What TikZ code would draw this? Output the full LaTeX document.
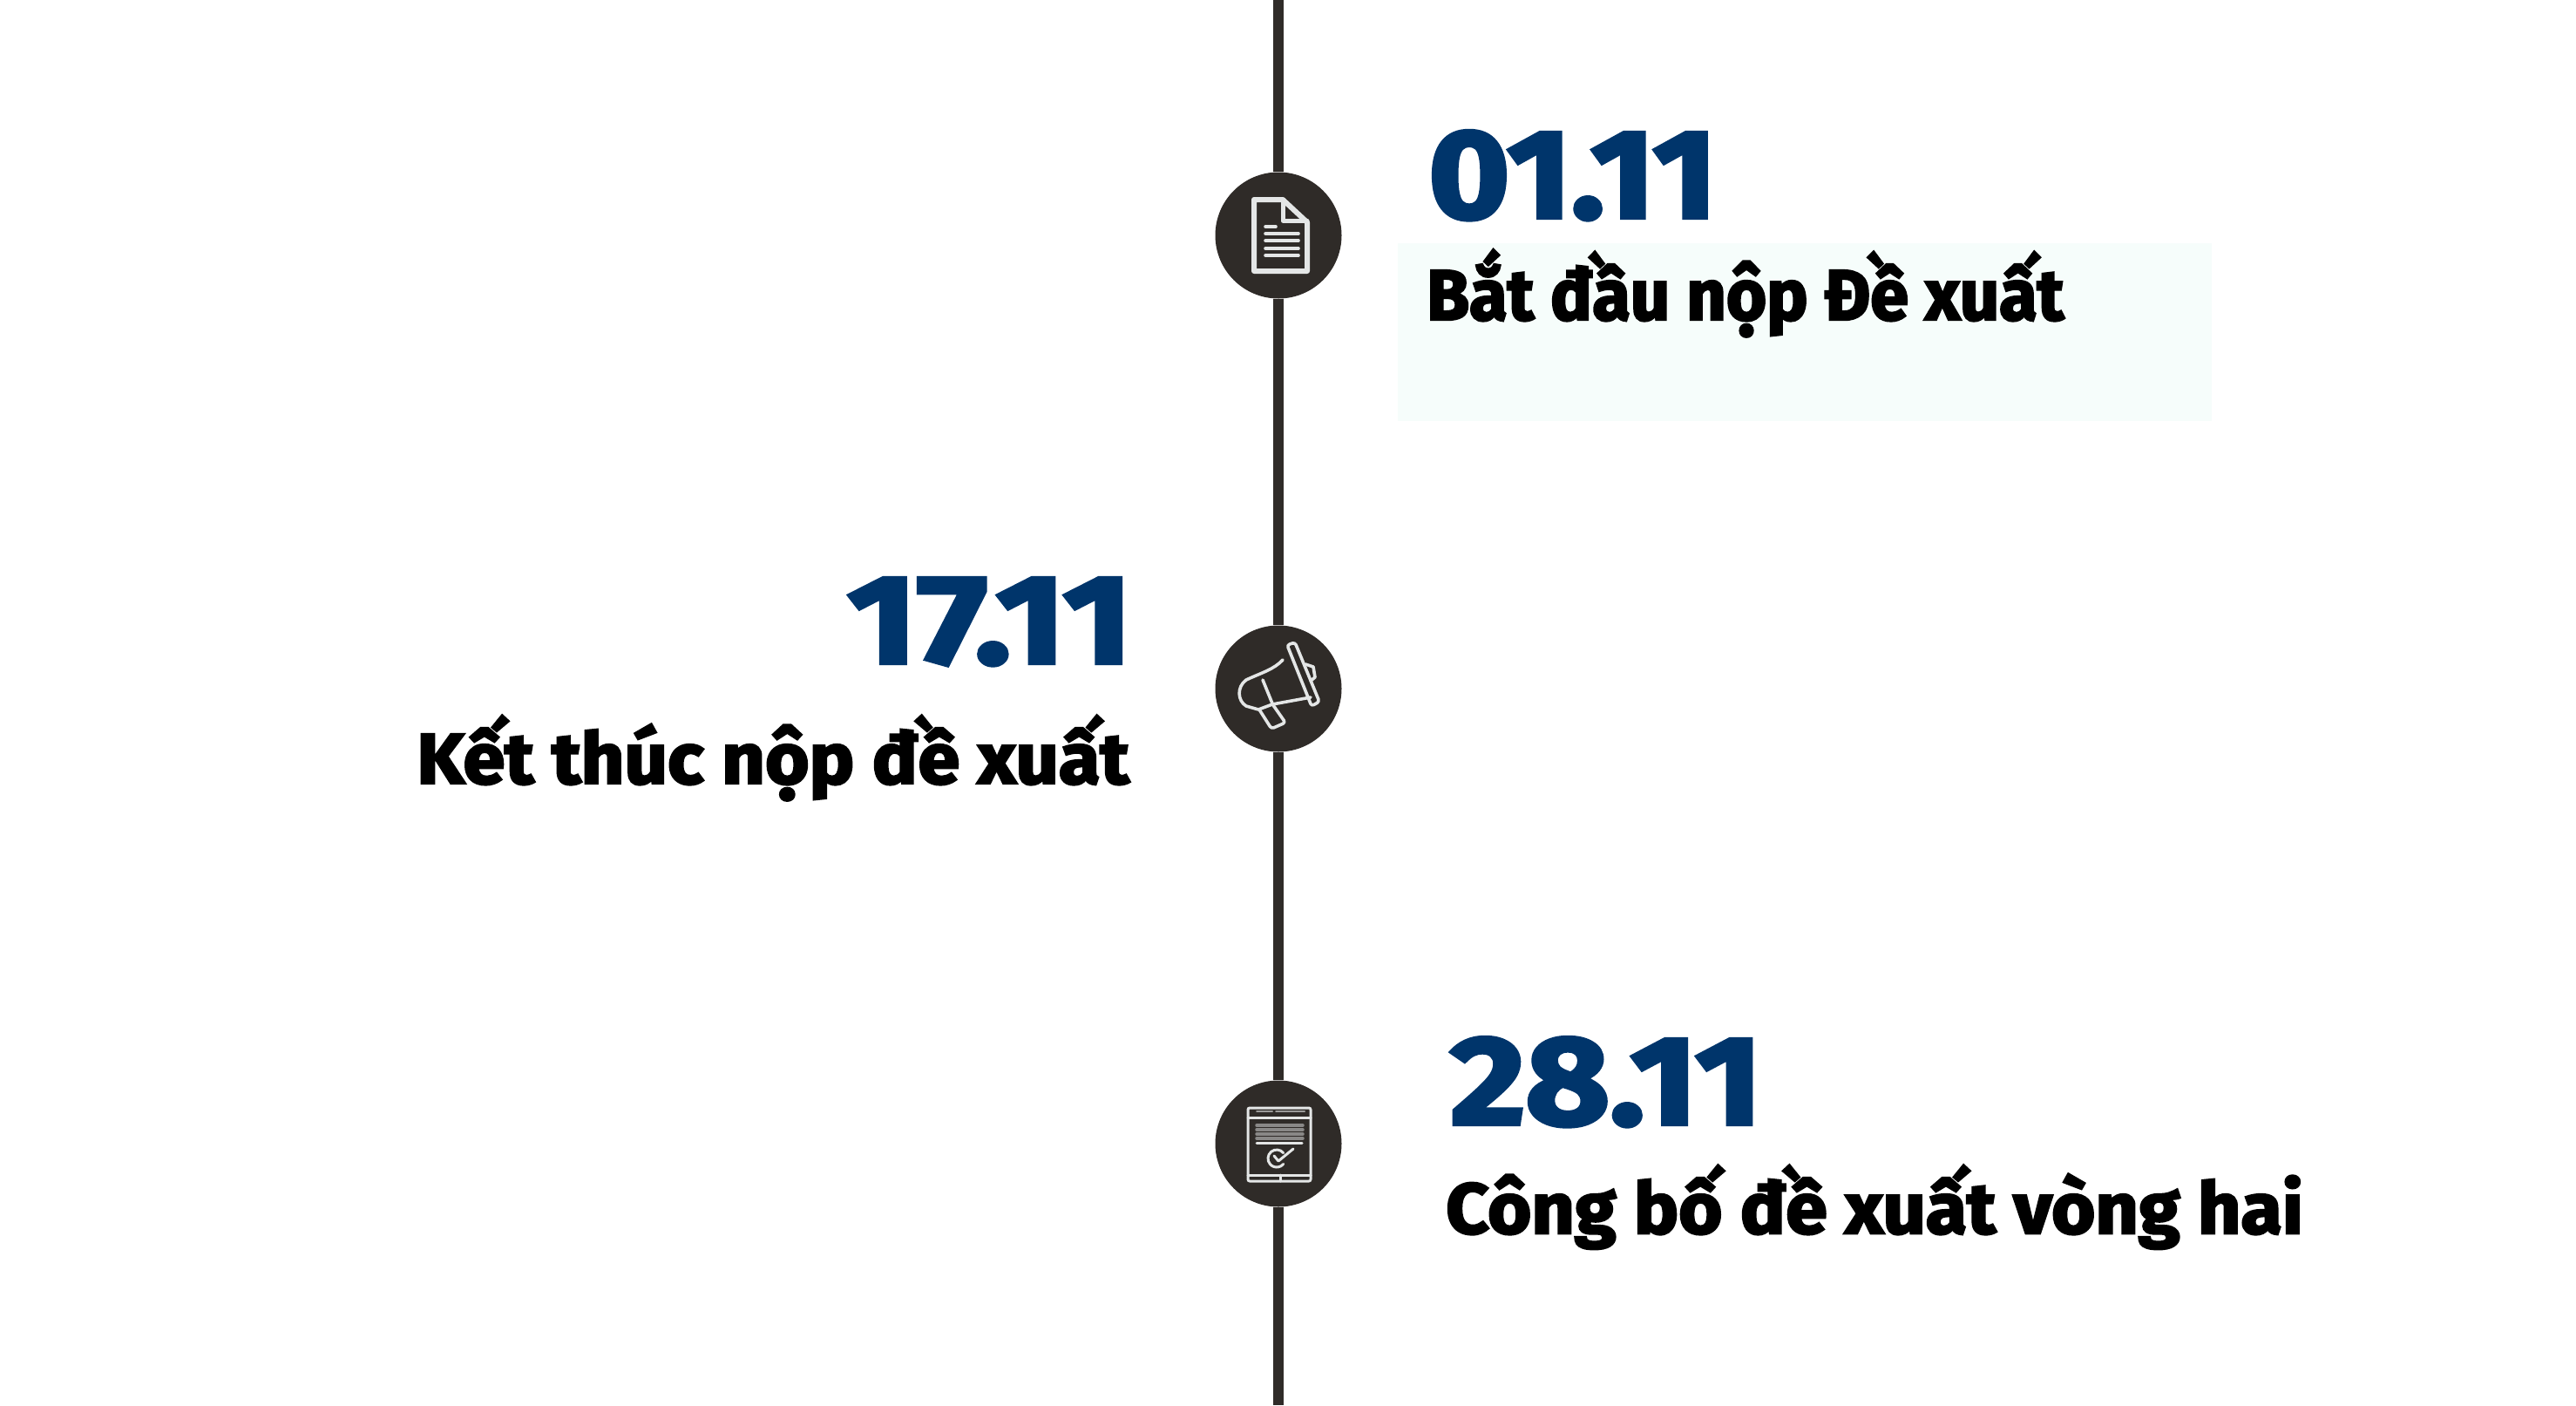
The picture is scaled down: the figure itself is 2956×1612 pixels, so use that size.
\documentclass[tikz,border=0pt]{standalone}
\usepackage{fontspec}
\usepackage{xcolor}
\setmainfont{Fira Sans}
\newfontfamily\datefont[FakeBold=3]{Fira Sans Bold}
\newfontfamily\labelfont[FakeBold=3]{Fira Sans Bold}
\definecolor{spine}{HTML}{2F2B28}
\definecolor{navy}{HTML}{00356B}
\definecolor{mint}{HTML}{F6FDFB}
\definecolor{iconline}{HTML}{E4E6E6}
\tikzset{
    spineline/.style={spine,line width=11.5pt},
    stop/.style={circle,fill=spine,minimum size=145pt,inner sep=0pt},
    datetext/.style={navy,inner sep=0pt,transform shape,font=\datefont\fontsize{145}{145}\selectfont},
    labeltext/.style={black,inner sep=0pt,transform shape,font=\labelfont\fontsize{82}{82}\selectfont},
    iconstroke/.style={iconline,line width=3.6pt,line cap=round,line join=round},
}

\begin{document}
\begin{tikzpicture}[x=1pt,y=-1pt]
    \useasboundingbox (0,0) rectangle (2956,1612);
    \fill[mint] (1604,279) rectangle (2538,483);

    \coordinate (top) at (1467,0);
    \coordinate (bottom) at (1467,1612);
    \node[stop] (stopdoc) at (1467,270) {};
    \node[stop] (stopmega) at (1467,790) {};
    \node[stop] (stoptablet) at (1467,1312) {};
    \draw[spineline] (top) -- (stopdoc);
    \draw[spineline] (stopdoc) -- (stopmega);
    \draw[spineline] (stopmega) -- (stoptablet);
    \draw[spineline] (stoptablet) -- (bottom);

    \node[datetext,xscale=1.10,anchor=base west] (date1) at (1639,250) {01.11};
    \node[labeltext,xscale=0.968,anchor=base west] (label1) at (1637,367) {Bắt đầu nộp Đề xuất};
    \node[datetext,xscale=1.19,anchor=base east] (date2) at (1300,761) {17.11};
    \node[labeltext,xscale=1.056,anchor=base east] (label2) at (1296,899) {Kết thúc nộp đề xuất};
    \node[datetext,xscale=1.15,anchor=base west] (date3) at (1664,1290) {28.11};
    \node[labeltext,xscale=1.05,anchor=base west] (label3) at (1659,1415) {Công bố đề xuất vòng hai};

    % document
    \begin{scope}[shift={(stopdoc.center)},iconstroke]
        \draw[line width=6pt] (-28,-41) -- (5,-41) -- (33,-15) -- (33,41) -- (-28,41) -- cycle;
        \draw[line width=5pt] (5,-41) -- (5,-17) -- (33,-17);
        \draw (-15,-10) -- (-3,-10);
        \foreach \liney in {-2,6,15,23}
            \draw (-15,\liney) -- (23,\liney);
    \end{scope}

    % megaphone
    \begin{scope}[shift={(stopmega.center)},iconstroke]
        \draw[rounded corners=3pt] (10,-50) -- (19,-53) -- (47,15) -- (38,20) -- cycle;
        \draw (5,-33) .. controls (-5,-22) and (-20,-18) .. (-37,-10)
            .. controls (-48,-2) and (-47,14) .. (-37,20)
            -- (-23,24) -- (-7,18) -- (37,10);
        \draw (-18,-10) -- (-7,17);
        \draw[rounded corners=3pt] (-22,24) -- (-8,46) -- (8,39) -- (-6,19);
        \draw (31,-28) -- (40,-25) -- (42,-13) -- (37,-9);
    \end{scope}

    % tablet
    \begin{scope}[shift={(stoptablet.center)},iconstroke,line width=3pt]
        \draw[rounded corners=2pt] (-35,-41) rectangle (37,43);
        \draw (-35,-30) -- (37,-30);
        \draw[line width=2pt,iconline!60!spine] (-25,-37) -- (-7,-37) (-3,-37) -- (30,-37);
        \foreach \liney in {-21,-16,-11,-6}
            \draw[line width=3.5pt,iconline!50!spine] (-25,\liney) -- (28,\liney);
        \draw (-25,-1) -- (27,-1);
        \draw (5.7,10.6) arc (-40:-320:10);
        \draw (-5,14) -- (0,20) -- (17,6);
        \draw (-35,36) -- (37,36) (2,36) -- (2,43);
    \end{scope}
\end{tikzpicture}
\end{document}
